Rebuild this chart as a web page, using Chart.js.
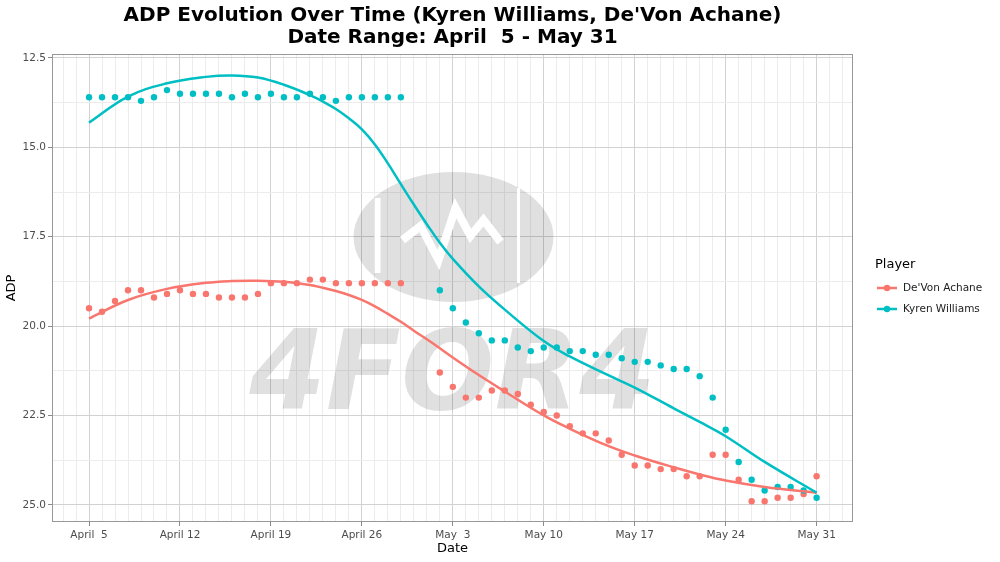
<!DOCTYPE html>
<html>
<head>
<meta charset="utf-8">
<script src="https://cdn.jsdelivr.net/npm/chart.js@4.4.1/dist/chart.umd.min.js"></script>
<style>
  html, body { margin: 0; padding: 0; background: #fff; }
</style>
</head>
<body>
<canvas id="adpChart" width="1000" height="562"></canvas>
<script>
// observed ADP per day (no data on Apr 30 / May 1)
const obsDates = [
    '04-05', '04-06', '04-07', '04-08', '04-09', '04-10', '04-11', '04-12', '04-13', '04-14',
    '04-15', '04-16', '04-17', '04-18', '04-19', '04-20', '04-21', '04-22', '04-23', '04-24',
    '04-25', '04-26', '04-27', '04-28', '04-29',
    '05-02', '05-03', '05-04', '05-05', '05-06', '05-07', '05-08', '05-09', '05-10', '05-11',
    '05-12', '05-13', '05-14', '05-15', '05-16', '05-17', '05-18', '05-19', '05-20', '05-21',
    '05-22', '05-23', '05-24', '05-25', '05-26', '05-27', '05-28', '05-29', '05-30', '05-31'
];
const kyrenADP = [
    13.6, 13.6, 13.6, 13.6, 13.7, 13.6, 13.4, 13.5, 13.5, 13.5,
    13.5, 13.6, 13.5, 13.6, 13.5, 13.6, 13.6, 13.5, 13.6, 13.7,
    13.6, 13.6, 13.6, 13.6, 13.6,
    19.0, 19.5, 19.9, 20.2, 20.4, 20.4, 20.6, 20.7, 20.6, 20.6,
    20.7, 20.7, 20.8, 20.8, 20.9, 21.0, 21.0, 21.1, 21.2, 21.2,
    21.4, 22.0, 22.9, 23.8, 24.3, 24.6, 24.5, 24.5, 24.6, 24.8
];
const achaneADP = [
    19.5, 19.6, 19.3, 19.0, 19.0, 19.2, 19.1, 19.0, 19.1, 19.1,
    19.2, 19.2, 19.2, 19.1, 18.8, 18.8, 18.8, 18.7, 18.7, 18.8,
    18.8, 18.8, 18.8, 18.8, 18.8,
    21.3, 21.7, 22.0, 22.0, 21.8, 21.8, 21.9, 22.2, 22.4, 22.5,
    22.8, 23.0, 23.0, 23.2, 23.6, 23.9, 23.9, 24.0, 24.0, 24.2,
    24.2, 23.6, 23.6, 24.3, 24.9, 24.9, 24.8, 24.8, 24.7, 24.2
];

// smoothed trend
const fitDates = [
    '04-05', '04-08', '04-11', '04-14', '04-16', '04-18', '04-20', '04-22', '04-23', '04-24',
    '04-25', '04-26', '04-27', '04-28', '04-29', '04-30', '05-01', '05-02', '05-03', '05-05',
    '05-07', '05-10', '05-12', '05-15', '05-17', '05-20', '05-22', '05-24', '05-27', '05-31'
];
const kyrenFit = [
    14.31, 13.58, 13.21, 13.03, 12.99, 13.05, 13.25, 13.54, 13.72, 13.93,
    14.19, 14.50, 14.92, 15.45, 16.03, 16.60, 17.15, 17.67, 18.12, 18.89,
    19.54, 20.42, 20.85, 21.38, 21.72, 22.30, 22.68, 23.08, 23.80, 24.66
];
const achaneFit = [
    19.79, 19.27, 18.96, 18.79, 18.74, 18.73, 18.76, 18.85, 18.93, 19.02,
    19.13, 19.27, 19.45, 19.66, 19.88, 20.13, 20.37, 20.62, 20.88, 21.37,
    21.83, 22.50, 22.87, 23.36, 23.62, 23.95, 24.15, 24.32, 24.50, 24.66
];

const xTickLabels = ['April  5', 'April 12', 'April 19', 'April 26', 'May  3', 'May 10', 'May 17', 'May 24', 'May 31'];
const yTickLabels = ['12.5', '15.0', '17.5', '20.0', '22.5', '25.0'];
const players = ["De'Von Achane", 'Kyren Williams'];

const achaneColor = '#F8766D';
const kyrenColor = '#00BFC4';
const playerColors = [achaneColor, kyrenColor];

// days since April 5
function dayOffset(md) {
    const [m, d] = md.split('-').map(Number);
    return m === 4 ? d - 5 : 25 + d;
}

function toPoints(dates, values) {
    return dates.map((d, i) => ({ x: dayOffset(d), y: values[i] }));
}

const watermark = {
    id: 'watermark',
    beforeDatasetsDraw(chart) {
        const { ctx, chartArea } = chart;
        const cx = (chartArea.left + chartArea.right) / 2;
        const cy = (chartArea.top + chartArea.bottom) / 2;
        ctx.save();
        ctx.fillStyle = 'rgba(0,0,0,0.12)';
        ctx.beginPath();
        ctx.ellipse(cx + 1, cy - 51, 100, 65, 0, 0, Math.PI * 2);
        ctx.fill();
        ctx.strokeStyle = '#fff';
        ctx.lineWidth = 6;
        ctx.beginPath();
        ctx.moveTo(cx - 75, cy - 90);
        ctx.lineTo(cx - 75, cy - 15);
        ctx.stroke();
        ctx.lineWidth = 3;
        ctx.beginPath();
        ctx.moveTo(cx + 66, cy - 100);
        ctx.lineTo(cx + 66, cy - 5);
        ctx.stroke();
        ctx.lineWidth = 8;
        ctx.lineJoin = 'miter';
        ctx.beginPath();
        ctx.moveTo(cx - 50, cy - 48);
        ctx.lineTo(cx - 32, cy - 62);
        ctx.lineTo(cx - 14, cy - 28);
        ctx.lineTo(cx + 3, cy - 80);
        ctx.lineTo(cx + 18, cy - 52);
        ctx.lineTo(cx + 31, cy - 68);
        ctx.lineTo(cx + 48, cy - 46);
        ctx.stroke();
        ctx.fillStyle = 'rgba(0,0,0,0.12)';
        ctx.font = 'italic bold 110px "DejaVu Sans"';
        ctx.textAlign = 'center';
        ctx.textBaseline = 'alphabetic';
        ctx.fillText('4FOR4', cx, cy + 121);
        ctx.restore();
    }
};

const panelBorder = {
    id: 'panelBorder',
    afterDatasetsDraw(chart) {
        const { ctx, chartArea } = chart;
        ctx.save();
        ctx.strokeStyle = '#999999';
        ctx.lineWidth = 1;
        ctx.strokeRect(chartArea.left + 0.5, chartArea.top + 0.5,
            chartArea.right - chartArea.left - 1, chartArea.bottom - chartArea.top - 1);
        ctx.restore();
    }
};

// ggplot-style legend: line with a dot for each player
const playerLegend = {
    id: 'playerLegend',
    afterDraw(chart) {
        const { ctx, chartArea } = chart;
        const x = chartArea.right + 22;
        const midY = (chartArea.top + chartArea.bottom) / 2;
        ctx.save();
        ctx.textBaseline = 'middle';
        ctx.textAlign = 'left';
        ctx.fillStyle = '#000';
        ctx.font = '13px "DejaVu Sans"';
        ctx.fillText('Player', x, midY - 23);
        players.forEach((name, i) => {
            const y = midY + i * 21;
            ctx.strokeStyle = playerColors[i];
            ctx.lineWidth = 2.5;
            ctx.beginPath();
            ctx.moveTo(x + 2, y);
            ctx.lineTo(x + 22, y);
            ctx.stroke();
            ctx.fillStyle = playerColors[i];
            ctx.beginPath();
            ctx.arc(x + 12, y, 3.2, 0, Math.PI * 2);
            ctx.fill();
            ctx.fillStyle = '#1a1a1a';
            ctx.font = '10.5px "DejaVu Sans"';
            ctx.fillText(name, x + 28, y);
        });
        ctx.restore();
    }
};

Chart.defaults.font.family = '"DejaVu Sans", sans-serif';
Chart.defaults.color = '#4d4d4d';

const xMajor = xTickLabels.map((_, i) => i * 7);
const yMajor = yTickLabels.map(Number);

new Chart(document.getElementById('adpChart').getContext('2d'), {
    data: {
        datasets: [
            {
                type: 'line',
                label: 'Kyren Williams trend',
                data: toPoints(fitDates, kyrenFit),
                borderColor: kyrenColor,
                borderWidth: 2.5,
                pointRadius: 0,
                tension: 0.4,
                order: 0
            },
            {
                type: 'line',
                label: "De'Von Achane trend",
                data: toPoints(fitDates, achaneFit),
                borderColor: achaneColor,
                borderWidth: 2.5,
                pointRadius: 0,
                tension: 0.4,
                order: 1
            },
            {
                type: 'scatter',
                label: 'Kyren Williams',
                data: toPoints(obsDates, kyrenADP),
                backgroundColor: kyrenColor,
                borderWidth: 0,
                pointRadius: 3.2,
                order: 2
            },
            {
                type: 'scatter',
                label: "De'Von Achane",
                data: toPoints(obsDates, achaneADP),
                backgroundColor: achaneColor,
                borderWidth: 0,
                pointRadius: 3.2,
                order: 3
            }
        ]
    },
    options: {
        responsive: false,
        animation: false,
        devicePixelRatio: 1,
        layout: { padding: { left: 0, right: 147, top: 0, bottom: 0 } },
        plugins: {
            title: {
                display: true,
                fullSize: false,
                text: ['ADP Evolution Over Time (Kyren Williams, De\'Von Achane)', 'Date Range: April  5 - May 31'],
                color: '#000',
                font: { size: 20, weight: 'bold', lineHeight: 1.1 },
                padding: { top: 5, bottom: 5 }
            },
            legend: { display: false },
            tooltip: { enabled: false }
        },
        scales: {
            x: {
                type: 'linear',
                min: -2.85,
                max: 58.8,
                afterBuildTicks: scale => {
                    const ticks = [];
                    for (let d = -2; d <= 58; d++) ticks.push({ value: d });
                    scale.ticks = ticks;
                },
                afterFit: scale => { scale.height = 40; },
                ticks: {
                    autoSkip: false,
                    maxRotation: 0,
                    padding: 3,
                    color: '#4d4d4d',
                    font: { size: 10.5 },
                    callback: value => {
                        const i = xMajor.indexOf(value);
                        return i >= 0 ? xTickLabels[i] : '';
                    }
                },
                grid: {
                    color: ctx => xMajor.includes(ctx.tick.value) ? '#d2d2d2' : '#ececec',
                    tickColor: ctx => xMajor.includes(ctx.tick.value) ? '#888888' : 'rgba(0,0,0,0)',
                    tickLength: 4
                },
                border: { display: false },
                title: {
                    display: true,
                    text: 'Date',
                    color: '#000',
                    font: { size: 13 },
                    padding: { top: 6, bottom: 6 }
                }
            },
            y: {
                type: 'linear',
                reverse: true,
                min: 12.39,
                max: 25.48,
                afterBuildTicks: scale => {
                    const ticks = [];
                    for (let v = 12.5; v <= 25.01; v += 1.25) ticks.push({ value: Math.round(v * 100) / 100 });
                    scale.ticks = ticks;
                },
                afterFit: scale => { scale.width = 52; },
                ticks: {
                    autoSkip: false,
                    padding: 2,
                    color: '#4d4d4d',
                    font: { size: 10.5 },
                    callback: value => {
                        const i = yMajor.indexOf(value);
                        return i >= 0 ? yTickLabels[i] : '';
                    }
                },
                grid: {
                    color: ctx => yMajor.includes(ctx.tick.value) ? '#d2d2d2' : '#ececec',
                    tickColor: ctx => yMajor.includes(ctx.tick.value) ? '#888888' : 'rgba(0,0,0,0)',
                    tickLength: 4
                },
                border: { display: false },
                title: {
                    display: true,
                    text: 'ADP',
                    color: '#000',
                    font: { size: 13 },
                    padding: { top: 4, bottom: 0 }
                }
            }
        }
    },
    plugins: [watermark, panelBorder, playerLegend]
});
</script>
</body>
</html>
